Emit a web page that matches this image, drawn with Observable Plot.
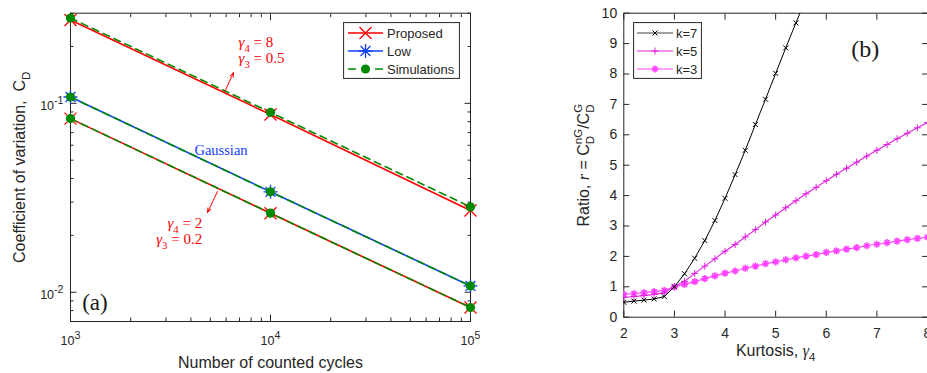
<!DOCTYPE html>
<html><head><meta charset="utf-8">
<script src="https://cdn.jsdelivr.net/npm/d3@7"></script>
<script src="https://cdn.jsdelivr.net/npm/@observablehq/plot@0.6"></script>
<style>
body{margin:0;background:#fff;}
#wrap{position:relative;width:927px;height:373px;overflow:hidden;background:#fff;font-family:"Liberation Sans",Arial,Helvetica,sans-serif;}
.panel{position:absolute;top:0;}
.legend{position:absolute;}
</style></head><body><div id="wrap"></div>
<script>
// ---------- Panel (a) data ----------
const cycles = [1e3, 1e4, 1e5];
const proposedHigh = [0.276, 0.0872, 0.0271];   // gamma4 = 8, gamma3 = 0.5
const proposedLow  = [0.083, 0.0262, 0.0083];   // gamma4 = 2, gamma3 = 0.2
const lowGauss     = [0.108, 0.034, 0.0108];    // Gaussian
const simHigh      = [0.283, 0.0895, 0.0283];
const simGauss     = [0.108, 0.034, 0.0108];
const simLow       = [0.083, 0.0262, 0.0083];
const xMajorA = [1e3, 1e4, 1e5];
const xMinorA = [2e3,3e3,4e3,5e3,6e3,7e3,8e3,9e3,2e4,3e4,4e4,5e4,6e4,7e4,8e4,9e4];
const yMajorA = [0.01, 0.1];
const yMinorA = [0.007,0.008,0.009,0.02,0.03,0.04,0.05,0.06,0.07,0.08,0.09,0.2,0.3];
const legendA = ["Proposed", "Low", "Simulations"];
const annoTopText = ["*{γ}_{4} = 8", "*{γ}_{3} = 0.5"];
const annoTopX = [6918, 6918];
const annoTopY = [0.21, 0.1727];
const annoBotText = ["*{γ}_{4} = 2", "*{γ}_{3} = 0.2"];
const annoBotX = [4555, 4555];
const annoBotY = [0.02311, 0.01901];
const arrowX1 = [5888, 5433], arrowY1 = [0.1141, 0.03412];
const arrowX2 = [6531, 4842], arrowY2 = [0.1456, 0.02642];
const gaussLabel = {text: "Gaussian", x: 5655, y: 0.05629};
const panelLabelA = {text: "(a)", x: 1144, y: 0.00882};

// ---------- Panel (b) data ----------
const kurtosis = [2,2.2,2.4,2.6,2.8,3,3.2,3.4,3.6,3.8,4,4.2,4.4,4.6,4.8,5,5.2,5.4,5.6,5.8,6,6.2,6.4,6.6,6.8,7,7.2,7.4,7.6,7.8,8];
const k7 = [0.49,0.53,0.56,0.6,0.68,1.0,1.43,1.94,2.52,3.18,3.91,4.69,5.49,6.34,7.17,8.02,8.86,9.68,10.5];
const k5 = [0.65,0.68,0.71,0.75,0.8,1.0,1.18,1.44,1.68,1.92,2.17,2.39,2.64,2.88,3.13,3.36,3.6,3.83,4.06,4.27,4.49,4.7,4.9,5.1,5.3,5.49,5.68,5.87,6.05,6.23,6.4];
const k3 = [0.75,0.78,0.81,0.84,0.88,1.0,1.08,1.17,1.27,1.36,1.45,1.52,1.61,1.68,1.76,1.82,1.89,1.95,2.01,2.06,2.13,2.18,2.24,2.29,2.35,2.4,2.45,2.5,2.55,2.59,2.63];
const xTicksB = [2,3,4,5,6,7,8];
const yTicksB = [0,1,2,3,4,5,6,7,8,9,10];
const legendB = ["k=7", "k=5", "k=3"];
const panelLabelB = {text: "(b)", x: 6.77, y: 8.806};

// ---------- styling ----------
const SANS = "Liberation Sans, Arial, Helvetica, sans-serif";
const SERIF = "Liberation Serif, Times New Roman, serif";
const AX = "#262626";
const RED = "#ff0000", BLUE = "#1040ff", GREEN = "#008a00";
const K7C = "#000000", K5C = "#e020e0", K3C = "#ff44ff";

// custom marker symbols (size = pi r^2)
const symX = {draw(c, s){const r=Math.sqrt(s/Math.PI); c.moveTo(-r,-r);c.lineTo(r,r);c.moveTo(-r,r);c.lineTo(r,-r);}};
const symPlus = {draw(c, s){const r=Math.sqrt(s/Math.PI); c.moveTo(-r,0);c.lineTo(r,0);c.moveTo(0,-r);c.lineTo(0,r);}};
const symStar = {draw(c, s){const r=Math.sqrt(s/Math.PI), d=r*Math.SQRT1_2; c.moveTo(-r,0);c.lineTo(r,0);c.moveTo(0,-r);c.lineTo(0,r);c.moveTo(-d,-d);c.lineTo(d,d);c.moveTo(-d,d);c.lineTo(d,-d);}};

const rows = (xs, ys, g) => xs.map((x,i)=>({x, y: ys[i], g})).filter(d => d.y !== undefined);
const propRows = [...rows(cycles, proposedHigh, "h"), ...rows(cycles, proposedLow, "l")];
const lowRows = rows(cycles, lowGauss, "g");
const simRows = [...rows(cycles, simHigh, "h"), ...rows(cycles, simGauss, "g"), ...rows(cycles, simLow, "l")];
const annoTop = annoTopText.map((t,i)=>({t, x: annoTopX[i], y: annoTopY[i]}));
const annoBot = annoBotText.map((t,i)=>({t, x: annoBotX[i], y: annoBotY[i]}));
const arrows = arrowX1.map((x,i)=>({x1:x, y1:arrowY1[i], x2:arrowX2[i], y2:arrowY2[i]}));

function tickMarks(axis, values, size, anchors){
  const f = axis === "x" ? Plot.axisX : Plot.axisY;
  return anchors.map(a => f(values, {anchor: a, tickSize: -size, tickFormat: () => "", label: null, stroke: AX}));
}

const plotA = Plot.plot({
  width: 480, height: 373,
  marginLeft: 70, marginRight: 10, marginTop: 12.7, marginBottom: 52,
  x: {type: "log", domain: [1e3, 1e5]},
  y: {type: "log", domain: [0.007, 0.3]},
  style: {fontFamily: SANS, fontSize: "13px", color: AX, background: "white"},
  marks: [
    Plot.frame({stroke: AX, strokeWidth: 1}),
    ...tickMarks("x", xMajorA, 6.5, ["bottom","top"]),
    ...tickMarks("x", xMinorA, 3.5, ["bottom","top"]),
    ...tickMarks("y", yMajorA, 6.5, ["left","right"]),
    ...tickMarks("y", yMinorA, 3.5, ["left","right"]),
    Plot.axisX(xMajorA, {anchor: "bottom", tickSize: 0, tickPadding: 15, tickFormat: d => "10^{" + Math.round(Math.log10(d)) + "}", label: null, fill: AX}),
    Plot.axisY(yMajorA, {anchor: "left", tickSize: 0, tickPadding: 7, dy: 3, tickFormat: d => "10^{" + Math.round(Math.log10(d)) + "}", label: null, fill: AX}),
    Plot.text(["Number of counted cycles"], {frameAnchor: "bottom", textAnchor: "middle", lineAnchor: "middle", dy: 41, fontSize: 16, fill: AX}),
    Plot.text(["Coefficient of variation,  C_{D}"], {frameAnchor: "left", textAnchor: "middle", lineAnchor: "middle", rotate: -90, dx: -51, fontSize: 16, fill: AX}),
    Plot.line(propRows, {x: "x", y: "y", z: "g", stroke: RED, strokeWidth: 1.6}),
    Plot.line(lowRows, {x: "x", y: "y", z: "g", stroke: BLUE, strokeWidth: 1.6}),
    Plot.line(simRows, {x: "x", y: "y", z: "g", stroke: GREEN, strokeWidth: 1.6, strokeDasharray: "7,5"}),
    Plot.dot(propRows, {x: "x", y: "y", symbol: symX, r: 6, stroke: RED, strokeWidth: 1.3, fill: "none"}),
    Plot.dot(lowRows, {x: "x", y: "y", symbol: symStar, r: 7, stroke: BLUE, strokeWidth: 1.3, fill: "none"}),
    Plot.dot(simRows, {x: "x", y: "y", r: 4.6, fill: GREEN, stroke: "none"}),
    Plot.arrow(arrows, {x1: "x1", y1: "y1", x2: "x2", y2: "y2", stroke: RED, strokeWidth: 1, headLength: 7, headAngle: 40}),
    Plot.text(annoTop, {x: "x", y: "y", text: "t", textAnchor: "start", fill: RED, fontFamily: SERIF, fontSize: 15}),
    Plot.text(annoBot, {x: "x", y: "y", text: "t", textAnchor: "end", fill: RED, fontFamily: SERIF, fontSize: 15}),
    Plot.text([gaussLabel], {x: "x", y: "y", text: "text", fill: BLUE, fontFamily: SERIF, fontSize: 14.5}),
    Plot.text([panelLabelA], {x: "x", y: "y", text: "text", textAnchor: "start", fill: "#1a1a1a", fontFamily: SERIF, fontSize: 23})
  ]
});

const rowsB = [
  ...rows(kurtosis, k7, "k7"), ...rows(kurtosis, k5, "k5"), ...rows(kurtosis, k3, "k3")
];
const plotB = Plot.plot({
  width: 447, height: 373,
  marginLeft: 143.3, marginRight: 0, marginTop: 12.7, marginBottom: 56.3,
  x: {domain: [2, 8]},
  y: {domain: [0, 10]},
  style: {fontFamily: SANS, fontSize: "14px", color: AX, background: "white"},
  marks: [
    Plot.frame({stroke: AX, strokeWidth: 1}),
    ...tickMarks("x", xTicksB, 6, ["bottom","top"]),
    ...tickMarks("y", yTicksB, 6, ["left","right"]),
    Plot.axisX(xTicksB, {anchor: "bottom", tickSize: 0, tickPadding: 10.5, label: null, fill: AX}),
    Plot.axisY(yTicksB, {anchor: "left", tickSize: 0, tickPadding: 6.6, label: null, fill: AX}),
    Plot.text(["Kurtosis, *{γ}_{4}"], {frameAnchor: "bottom", textAnchor: "middle", lineAnchor: "middle", dy: 34, fontSize: 16, fill: AX}),
    Plot.text(["Ratio, *{r} = C_{D}^{nG}/C_{D}^{G}"], {frameAnchor: "left", textAnchor: "middle", lineAnchor: "middle", rotate: -90, dx: -40, fontSize: 16, fill: AX}),
    Plot.line(rowsB.filter(d=>d.g==="k3"), {x: "x", y: "y", stroke: K3C, strokeWidth: 1.2, clip: true}),
    Plot.dot(rowsB.filter(d=>d.g==="k3"), {x: "x", y: "y", symbol: symStar, r: 3.6, stroke: K3C, strokeWidth: 1.6, fill: "none", clip: true}),
    Plot.line(rowsB.filter(d=>d.g==="k5"), {x: "x", y: "y", stroke: K5C, strokeWidth: 1.1, clip: true}),
    Plot.dot(rowsB.filter(d=>d.g==="k5"), {x: "x", y: "y", symbol: symPlus, r: 3.5, stroke: K5C, strokeWidth: 1, fill: "none", clip: true}),
    Plot.line(rowsB.filter(d=>d.g==="k7"), {x: "x", y: "y", stroke: K7C, strokeWidth: 1, clip: true}),
    Plot.dot(rowsB.filter(d=>d.g==="k7"), {x: "x", y: "y", symbol: symX, r: 2.5, stroke: K7C, strokeWidth: 1, fill: "none", clip: true}),
    Plot.text([panelLabelB], {x: "x", y: "y", text: "text", fill: "#1a1a1a", fontFamily: SERIF, fontSize: 24})
  ]
});

const wrap = document.getElementById("wrap");
const dA = document.createElement("div"); dA.className = "panel"; dA.style.left = "0px"; dA.appendChild(plotA); wrap.appendChild(dA);
const dB = document.createElement("div"); dB.className = "panel"; dB.style.left = "480px"; dB.appendChild(plotB); wrap.appendChild(dB);

// tick label font sizes (identified by content)
plotA.querySelectorAll("text").forEach(t => { if (/^10\^\{/.test(t.textContent)) { t.setAttribute("font-size", 12.5); t.style.fontSize = "12.5px"; } });
plotB.querySelectorAll("text").forEach(t => { if (/^\d+$/.test(t.textContent)) { t.setAttribute("font-size", 14); t.style.fontSize = "14px"; } });

// rich text: ^{sup} _{sub} *{italic}
const NS = "http://www.w3.org/2000/svg";
function rich(el){
  const s = el.textContent;
  if (!/[\^_*]\{/.test(s)) return;
  const cs = getComputedStyle(el);
  const fs = parseFloat(cs.fontSize) || 14;
  const isSerif = cs.fontFamily.indexOf("Serif") >= 0;
  const inTick = /^10\^/.test(s);
  const scale = inTick ? 0.85 : 0.72;
  el.textContent = "";
  let i = 0, shift = 0, prevScript = null;
  const isCmd = k => (s[k]==="^"||s[k]==="_"||s[k]==="*") && s[k+1]==="{";
  while (i < s.length) {
    if (isCmd(i)) {
      const c = s[i], j = s.indexOf("}", i), content = s.slice(i+2, j); i = j+1;
      const t = document.createElementNS(NS, "tspan"); t.textContent = content;
      if (c === "*") {
        t.setAttribute("font-style", "italic");
        if (!isSerif) t.setAttribute("font-family", SERIF);
        if (shift) { t.setAttribute("dy", -shift * fs); shift = 0; }
        el.appendChild(t); prevScript = null; continue;
      }
      const target = c === "^" ? (inTick ? -0.5 : -0.42) : 0.32;
      t.setAttribute("font-size", (scale * fs).toFixed(2));
      t.style.fontSize = (scale * fs).toFixed(2) + "px";
      t.setAttribute("dy", ((target - shift) * fs).toFixed(2));
      shift = target;
      el.appendChild(t);
      if (prevScript && prevScript.kind !== c) {
        const w = prevScript.node.getComputedTextLength();
        t.setAttribute("dx", (-w).toFixed(2));
        prevScript = null;
      } else prevScript = {kind: c, node: t};
    } else {
      let j = i; while (j < s.length && !isCmd(j)) j++;
      const t = document.createElementNS(NS, "tspan"); t.textContent = s.slice(i, j);
      if (shift) { t.setAttribute("dy", (-shift * fs).toFixed(2)); shift = 0; }
      el.appendChild(t); prevScript = null; i = j;
    }
  }
}
[plotA, plotB].forEach(svg => svg.querySelectorAll("text").forEach(rich));

// legends
function legend(left, top, w, h, labels, draws){
  const svg = d3.select(wrap).append("svg").attr("class","legend")
    .style("left", left+"px").style("top", top+"px").attr("width", w).attr("height", h);
  svg.append("rect").attr("x",0.5).attr("y",0.5).attr("width",w-1).attr("height",h-1).attr("fill","#fff").attr("stroke","#3a3a3a").attr("stroke-width",1.2);
  labels.forEach((lab, i) => {
    const g = svg.append("g").attr("transform", `translate(0,${11 + i*18})`);
    draws[i](g);
    g.append("text").attr("x", draws.tx).attr("y", 4.6).attr("font-family", SANS).attr("font-size", 13).attr("fill", AX).text(lab);
  });
}
const sym = (g, type, r, x, stroke, sw) => g.append("path").attr("transform", `translate(${x},0)`).attr("d", d3.symbol(type, Math.PI*r*r)()).attr("fill","none").attr("stroke",stroke).attr("stroke-width",sw);
const drawsA = [
  g => { g.append("line").attr("x1",5).attr("x2",40).attr("stroke",RED).attr("stroke-width",1.6); sym(g, symX, 6, 22.5, RED, 1.3); },
  g => { g.append("line").attr("x1",5).attr("x2",40).attr("stroke",BLUE).attr("stroke-width",1.6); sym(g, symStar, 7, 22.5, BLUE, 1.3); },
  g => { g.append("line").attr("x1",5).attr("x2",40).attr("stroke",GREEN).attr("stroke-width",1.6).attr("stroke-dasharray","8,19,8,100"); g.append("circle").attr("cx",22.5).attr("r",4.6).attr("fill",GREEN); }
];
drawsA.tx = 44;
legend(343, 22, 117, 57, legendA, drawsA);
const drawsB = [
  g => { g.append("line").attr("x1",4).attr("x2",40).attr("stroke","#444").attr("stroke-width",1.2); sym(g, symX, 2.5, 22, K7C, 1); },
  g => { g.append("line").attr("x1",4).attr("x2",40).attr("stroke",K5C).attr("stroke-width",1.1); sym(g, symPlus, 3.5, 22, K5C, 1); },
  g => { g.append("line").attr("x1",4).attr("x2",40).attr("stroke",K3C).attr("stroke-width",1.2); sym(g, symStar, 3.6, 22, K3C, 1.6); }
];
drawsB.tx = 43;
legend(633, 22, 69, 57, legendB, drawsB);
</script></body></html>
